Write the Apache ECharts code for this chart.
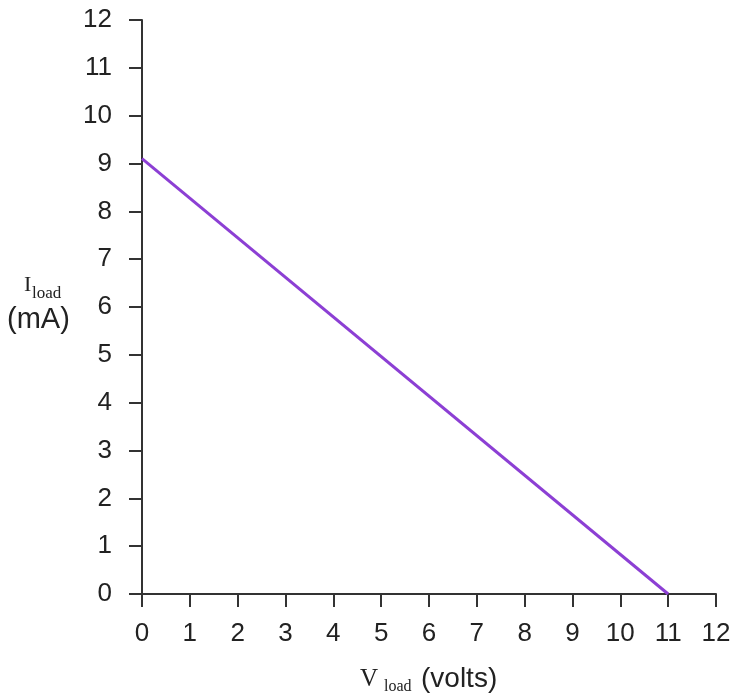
<!DOCTYPE html>
<html>
<head>
<meta charset="utf-8">
<script src="https://cdn.jsdelivr.net/npm/echarts@6/dist/echarts.min.js"></script>
<style>
  html, body { margin: 0; padding: 0; background: #fff; }
  #main { width: 736px; height: 698px; }
</style>
</head>
<body>
<div id="main"></div>
<script>
// load line: I_load vs V_load
var vLoad = [0, 11];
var iLoad = [9.1, 0];
var xTicks = [0, 12];   // min, max
var yTicks = [0, 12];

var sans = 'Liberation Sans, Arial, sans-serif';
var serif = 'Liberation Serif, Times New Roman, serif';

var chart = echarts.init(document.getElementById('main'));

function axis(range, margin) {
  return {
    type: 'value',
    min: range[0],
    max: range[1],
    interval: 1,
    splitLine: { show: false },
    axisLine: { show: true, lineStyle: { color: '#333', width: 2 } },
    axisTick: { show: true, length: 13, lineStyle: { color: '#333', width: 2 } },
    axisLabel: { color: '#222', fontSize: 26, fontFamily: sans, margin: margin }
  };
}

var option = {
  animation: false,
  backgroundColor: '#fff',
  grid: { left: 142, right: 20, top: 20, bottom: 104 },
  xAxis: axis(xTicks, 27),
  yAxis: axis(yTicks, 30),
  series: [{
    type: 'line',
    data: vLoad.map(function (v, i) { return [v, iLoad[i]]; }),
    showSymbol: false,
    lineStyle: { color: '#8c3fd4', width: 3 }
  }],
  graphic: [
    { type: 'text', left: 24, top: 274, style: { text: 'I', font: '22px ' + serif, fill: '#222' } },
    { type: 'text', left: 32, top: 285, style: { text: 'load', font: '17px ' + serif, fill: '#222' } },
    { type: 'text', left: 7, top: 305, style: { text: '(mA)', font: '29px ' + sans, fill: '#222' } },
    { type: 'text', left: 360, top: 667, style: { text: 'V', font: '25px ' + serif, fill: '#222' } },
    { type: 'text', left: 384, top: 679, style: { text: 'load', font: '16px ' + serif, fill: '#222' } },
    { type: 'text', left: 421, top: 665, style: { text: '(volts)', font: '28px ' + sans, fill: '#222' } }
  ]
};

chart.setOption(option);
</script>
</body>
</html>
